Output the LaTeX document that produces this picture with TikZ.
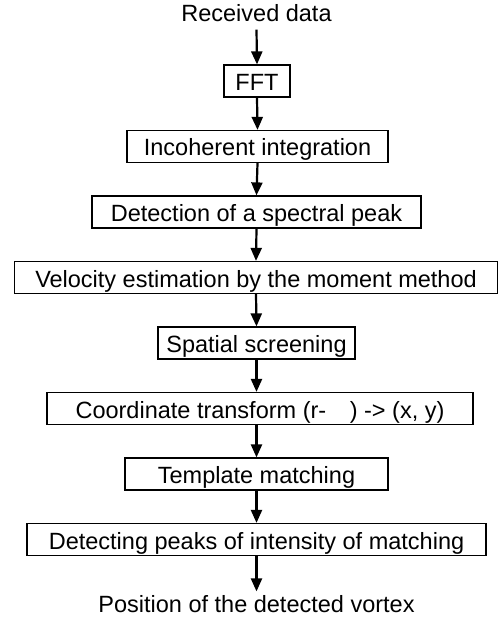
\documentclass[tikz,border=0pt]{standalone}
\usepackage{fontspec}
\setmainfont{Liberation Sans}
\usetikzlibrary{arrows.meta}
\tikzset{
  stepbox/.style={draw=black, line width=1.2pt, rectangle, minimum height=32pt, inner sep=0pt,
    font=\fontsize{23.5}{28}\selectfont, text height=22pt, text depth=3pt},
  plain/.style={inner sep=0pt, font=\fontsize{23.5}{28}\selectfont, text height=17.6pt, text depth=5.2pt},
  flow/.style={line width=2.2pt, -{Triangle[width=11pt,length=13pt]}}
}
\begin{document}
\begin{tikzpicture}[x=1pt,y=-1pt]
\useasboundingbox (0,0) rectangle (499,620);
\node[plain] (in) at (256.5,15) {Received data};
\node[stepbox, minimum width=66pt] (fft) at (257,81) {FFT};
\node[stepbox, minimum width=261pt] (inc) at (257.5,146.5) {Incoherent integration};
\node[stepbox, minimum width=329pt] (det) at (256.5,212) {Detection of a spectral peak};
\node[stepbox, minimum width=483pt] (vel) at (256,277.5) {Velocity estimation by the moment method};
\node[stepbox, minimum width=197pt] (spa) at (256.5,343) {Spatial screening};
\node[stepbox, minimum width=426pt] (coo) at (260,408.5) {Coordinate transform (r-\hspace{1em}) -> (x, y)};
\node[stepbox, minimum width=263pt] (tem) at (256.5,474) {Template matching};
\node[stepbox, minimum width=459pt] (pk) at (256.5,539.5) {Detecting peaks of intensity of matching};
\node[plain] (out) at (256.5,606) {Position of the detected vortex};
\draw[flow] ([yshift=-3pt]in.south) -- (fft.north);
\draw[flow] (fft.south) -- (inc.north);
\draw[flow] (inc.south) -- (det.north);
\draw[flow] (det.south) -- (vel.north);
\draw[flow] (vel.south) -- (spa.north);
\draw[flow] (spa.south) -- (coo.north -| spa.south);
\draw[flow] (coo.south -| tem.north) -- (tem.north);
\draw[flow] (tem.south) -- (pk.north);
\draw[flow] (pk.south) -- ([yshift=3pt]out.north);
\end{tikzpicture}
\end{document}
